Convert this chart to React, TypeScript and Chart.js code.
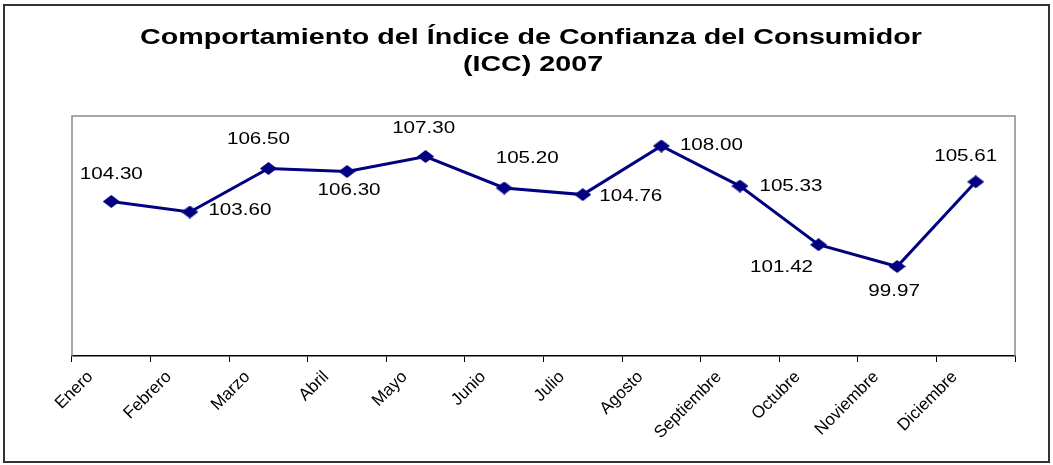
import React, { useEffect, useRef } from 'react';
import { Chart, registerables } from 'chart.js';

Chart.register(...registerables);

const months = ['Enero', 'Febrero', 'Marzo', 'Abril', 'Mayo', 'Junio', 'Julio', 'Agosto', 'Septiembre', 'Octubre', 'Noviembre', 'Diciembre'];
const iccValues = [104.3, 103.6, 106.5, 106.3, 107.3, 105.2, 104.76, 108.0, 105.33, 101.42, 99.97, 105.61];
const valueLabels = ['104.30', '103.60', '106.50', '106.30', '107.30', '105.20', '104.76', '108.00', '105.33', '101.42', '99.97', '105.61'];
const titleLines = ['Comportamiento del Índice de Confianza del Consumidor', '(ICC) 2007'];

// label placement (style only): offset of label centre from its point
const labelOffsets: [number, number][] = [
  [0, -27], [50, -2], [-10, -29], [2, 19], [-2, -28], [23, -30],
  [48, 2], [50, -1], [51, 0], [-37, 23], [-3, 25], [-10, -26],
];

const LINE_COLOR = '#000080';

const decorPlugin = {
  id: 'decor',
  beforeDraw(chart: any) {
    const ctx = chart.ctx as CanvasRenderingContext2D;
    ctx.save();
    ctx.fillStyle = '#ffffff';
    ctx.fillRect(0, 0, chart.width, chart.height);
    ctx.strokeStyle = '#333333';
    ctx.lineWidth = 2;
    ctx.strokeRect(4, 5, 1045, 457);

    ctx.fillStyle = '#000';
    ctx.font = 'bold 22px "Liberation Sans", Arial, sans-serif';
    ctx.textAlign = 'center';
    ctx.textBaseline = 'middle';
    const w = ctx.measureText(titleLines[0]).width;
    const sx = 782 / w;
    const centers = [[531, 38], [533, 65]];
    titleLines.forEach((t, i) => {
      ctx.save();
      ctx.translate(centers[i][0], centers[i][1]);
      ctx.scale(sx, 1);
      ctx.fillText(t, 0, 0);
      ctx.restore();
    });
    ctx.restore();
  },
  beforeDatasetsDraw(chart: any) {
    const ctx = chart.ctx as CanvasRenderingContext2D;
    const a = chart.chartArea;
    ctx.save();
    ctx.strokeStyle = '#8a8a8a';
    ctx.lineWidth = 1.5;
    ctx.beginPath();
    ctx.moveTo(a.left, a.bottom);
    ctx.lineTo(a.left, a.top);
    ctx.lineTo(a.right, a.top);
    ctx.lineTo(a.right, a.bottom);
    ctx.stroke();
    ctx.restore();
  },
  afterDatasetsDraw(chart: any) {
    const ctx = chart.ctx as CanvasRenderingContext2D;
    const meta = chart.getDatasetMeta(0);
    ctx.save();
    ctx.fillStyle = '#000';
    ctx.font = '17px "Liberation Sans", Arial, sans-serif';
    ctx.textAlign = 'center';
    ctx.textBaseline = 'middle';
    const sx = 63 / ctx.measureText('104.30').width;
    meta.data.forEach((pt: any, i: number) => {
      const [dx, dy] = labelOffsets[i];
      ctx.save();
      ctx.translate(pt.x + dx, pt.y + dy);
      ctx.scale(sx, 1);
      ctx.fillText(valueLabels[i], 0, 0);
      ctx.restore();
    });
    ctx.restore();
  },
};

export default function App() {
  const canvasRef = useRef<HTMLCanvasElement | null>(null);

  useEffect(() => {
    const marker = document.createElement('canvas');
    marker.width = 17;
    marker.height = 13;
    const mctx = marker.getContext('2d')!;
    mctx.fillStyle = LINE_COLOR;
    mctx.beginPath();
    mctx.moveTo(0, 6.5);
    mctx.lineTo(8.5, 0);
    mctx.lineTo(17, 6.5);
    mctx.lineTo(8.5, 13);
    mctx.closePath();
    mctx.fill();

    const chart = new Chart(canvasRef.current!, {
      type: 'line',
      data: {
        labels: months,
        datasets: [
          {
            data: iccValues,
            borderColor: LINE_COLOR,
            backgroundColor: LINE_COLOR,
            borderWidth: 3,
            pointStyle: marker as any,
            pointRadius: 8,
            tension: 0,
          },
        ],
      },
      options: {
        responsive: false,
        animation: false,
        layout: { padding: { left: 72, right: 38, top: 116, bottom: 0 } },
        plugins: {
          legend: { display: false },
          tooltip: { enabled: false },
          title: { display: false },
        },
        scales: {
          x: {
            type: 'category',
            offset: true,
            grid: {
              offset: true,
              drawOnChartArea: false,
              drawTicks: true,
              tickLength: 6,
              color: '#000',
            },
            border: { display: true, color: '#000', width: 1.5 },
            ticks: {
              autoSkip: false,
              minRotation: 45,
              maxRotation: 45,
              labelOffset: -21,
              padding: 5,
              color: '#000',
              font: { family: '"Liberation Sans", Arial, sans-serif', size: 17 },
            },
            afterFit: (scale: any) => {
              scale.height = 109;
            },
          },
          y: {
            display: false,
            min: 94,
            max: 110,
          },
        },
      },
      plugins: [decorPlugin],
    });
    return () => chart.destroy();
  }, []);

  return (
    <div style={{ position: 'fixed', left: 0, top: 0, width: 1053, height: 465, background: '#fff' }}>
      <canvas ref={canvasRef} width={1053} height={465} />
    </div>
  );
}
